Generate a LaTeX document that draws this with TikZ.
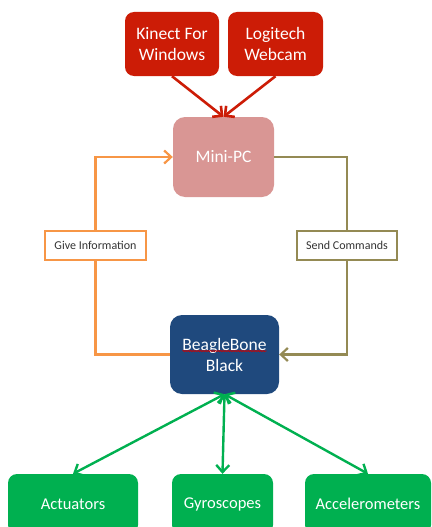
\documentclass[tikz,border=0pt]{standalone}
\usepackage{fontspec}
\setmainfont{Carlito}
\usetikzlibrary{arrows.meta,decorations.pathmorphing}

\definecolor{kinectred}{RGB}{204,28,6}
\definecolor{pcpink}{RGB}{217,150,148}
\definecolor{bbblue}{RGB}{31,73,125}
\definecolor{sensgreen}{RGB}{0,176,80}
\definecolor{infoorange}{RGB}{247,150,70}
\definecolor{cmdolive}{RGB}{148,138,84}

\tikzset{
  blockbox/.style={rounded corners=9pt, inner sep=0pt, align=center, text=white,
    font=\fontsize{17.5}{21}\selectfont},
  redbox/.style={blockbox, fill=kinectred},
  pcbox/.style={blockbox, fill=pcpink, rounded corners=12pt},
  bbbox/.style={blockbox, fill=bbblue, rounded corners=12pt},
  greenbox/.style={blockbox, fill=sensgreen, font=\fontsize{16.5}{20}\selectfont},
  tagbox/.style={fill=white, line width=1.6pt, inner sep=0pt,
    font=\fontsize{12}{14}\selectfont, text=black!80},
  feedline/.style={line width=2.6pt, kinectred, -{Straight Barb[length=7pt,width=14pt]}},
  infoline/.style={line width=2.2pt, infoorange},
  cmdline/.style={line width=2.2pt, cmdolive},
  busline/.style={line width=2.4pt, sensgreen,
    {Straight Barb[length=7pt,width=13pt]}-{Straight Barb[length=7pt,width=13pt]}}
}

\begin{document}
\begin{tikzpicture}[x=1pt,y=-1pt]
\clip (0,0) rectangle (431,527);

\node[redbox, minimum width=94pt, minimum height=64pt] (kinect) at (172,44) {Kinect For\\Windows};
\node[redbox, minimum width=95pt, minimum height=64pt] (webcam) at (275.5,44) {Logitech\\Webcam};
\node[pcbox, minimum width=101pt, minimum height=80pt] (minipc) at (223.5,157) {Mini-PC};
\node[bbbox, minimum width=109pt, minimum height=79pt] (beagle) at (224.5,354.5) {BeagleBone\\Black};
\node[tagbox, draw=infoorange, minimum width=101pt, minimum height=29pt] (info) at (95.5,245.5) {Give Information};
\node[tagbox, draw=cmdolive, minimum width=100pt, minimum height=29pt] (cmd) at (347,245.5) {Send Commands};
\node[greenbox, minimum width=130pt, minimum height=60pt] (actuators) at (73,504) {Actuators};
\node[greenbox, minimum width=101pt, minimum height=60pt] (gyros) at (222.5,504) {Gyroscopes};
\node[greenbox, minimum width=126pt, minimum height=60pt] (accel) at (368,504) {Accelerometers};

\draw[feedline] (kinect.south) -- (minipc.north);
\draw[feedline] (webcam.south) -- (minipc.north);
\draw[infoline] (beagle.west) -| (info.south);
\draw[infoline, -{Straight Barb[length=7pt,width=13pt]}] (info.north) |- (minipc.west);
\draw[cmdline] (minipc.east) -| (cmd.north);
\draw[cmdline, -{Straight Barb[length=7pt,width=13pt]}] (cmd.south) |- (beagle.east);
\draw[busline] (beagle.south) -- (actuators.north);
\draw[busline] (beagle.south) -- (gyros.north);
\draw[busline] (beagle.south) -- (accel.north);
\draw[red!80!black, line width=0.7pt, decorate, decoration={snake, amplitude=0.6pt, segment length=2.5pt}]
  ([xshift=-42pt,yshift=3.5pt]beagle.center) -- ([xshift=42pt,yshift=3.5pt]beagle.center);
\end{tikzpicture}
\end{document}
